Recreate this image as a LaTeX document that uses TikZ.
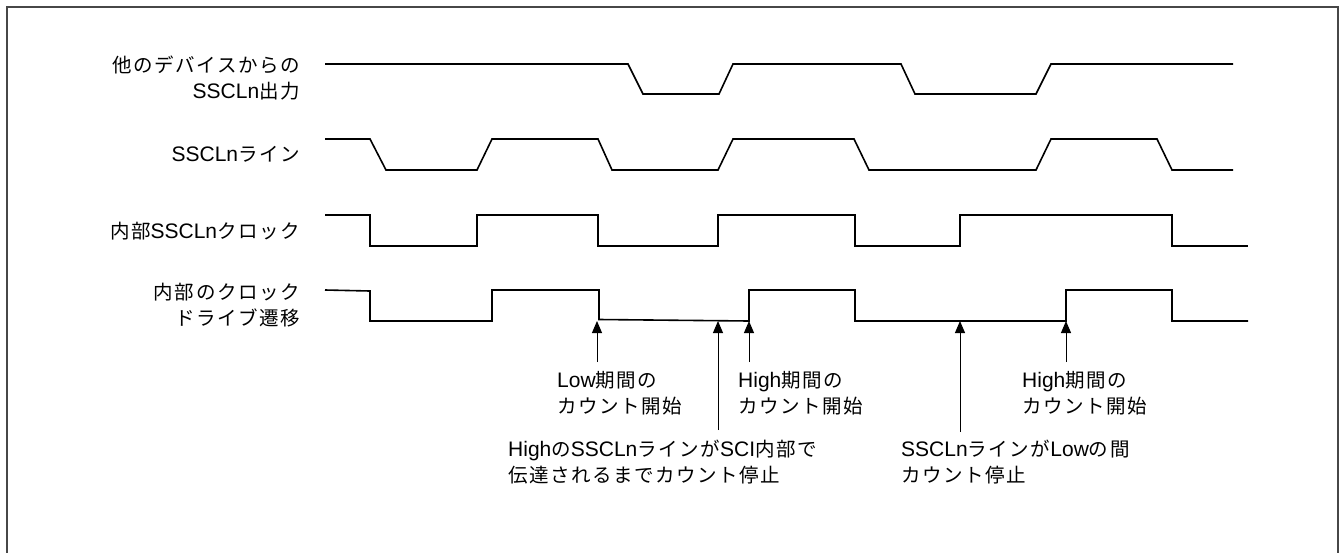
\documentclass[tikz,border=0pt]{standalone}
\usepackage{fontspec}
\setmainfont{Liberation Sans}
\newfontfamily\jpf[LetterSpace=8]{Noto Sans CJK JP}
\newcommand\J[1]{{\jpf\fontsize{19.5}{26}\selectfont #1}}
\usetikzlibrary{arrows.meta}
\begin{document}
\begin{tikzpicture}[x=1pt,y=-1pt,
  wave/.style={line width=1.6pt, line join=miter},
  ann/.style={line width=1pt, -{Triangle[length=12pt,width=10pt]}},
  lbl/.style={font=\fontsize{21}{26}\selectfont, inner sep=0pt}]
\useasboundingbox (0,0) rectangle (1341,552);
\draw[line width=2pt, draw=black!72] (6.5,556) -- (6.5,7) -- (1338,7) -- (1338,556);
% waveforms
\draw[wave] (325,64) -- (628,64) -- (643,94) -- (719,94) -- (733,64) -- (901,64) -- (915,94) -- (1036,94) -- (1051,64) -- (1233,64);
\draw[wave] (325,139) -- (370,139) -- (386,170) -- (477,170) -- (492,139) -- (598,139) -- (612,170) -- (718,170) -- (733,139) -- (854,139) -- (869,170) -- (1036,170) -- (1051,139) -- (1157,139) -- (1172,170) -- (1233,170);
\draw[wave] (325,215) -- (370,215) -- (370,246) -- (477,246) -- (477,215) -- (598,215) -- (598,246) -- (718,246) -- (718,215) -- (855,215) -- (855,246) -- (960,246) -- (960,215) -- (1172,215) -- (1172,246) -- (1248,246);
\draw[wave] (325,290) -- (370,291) -- (370,321) -- (492,321) -- (492,290) -- (599,290) -- (599,319.5) -- (749,321) -- (749,290) -- (855,290) -- (855,321) -- (1066,321) -- (1066,290) -- (1172,290) -- (1172,321) -- (1248,321);
% signal names
\node[lbl, anchor=east, align=right] (n1) at (300,78) {\J{他のデバイスからの}\\SSCLn\J{出力}};
\node[lbl, anchor=east] (n2) at (300,154) {SSCLn\J{ライン}};
\node[lbl, anchor=east] (n3) at (300,231) {\J{内部}SSCLn\J{クロック}};
\node[lbl, anchor=east, align=right] (n4) at (300,305) {\J{内部のクロック}\\\J{ドライブ遷移}};
% annotations
\node[lbl, anchor=west, align=left] (b1) at (557,393) {Low\J{期間の}\\\J{カウント開始}};
\node[lbl, anchor=west, align=left] (b2) at (738,393) {High\J{期間の}\\\J{カウント開始}};
\node[lbl, anchor=west, align=left] (b3) at (508,462) {High\J{の}SSCLn\J{ラインが}SCI\J{内部で}\\\J{伝達されるまでカウント停止}};
\node[lbl, anchor=west, align=left] (b4) at (901,462) {SSCLn\J{ラインが}Low\J{の間}\\\J{カウント停止}};
\node[lbl, anchor=west, align=left] (b5) at (1022,393) {High\J{期間の}\\\J{カウント開始}};
% arrow endpoints
\coordinate (s1) at (597,362); \coordinate (e1) at (597,321);
\coordinate (s2) at (718,430); \coordinate (e2) at (718,321);
\coordinate (s3) at (749,362); \coordinate (e3) at (749,321);
\coordinate (s4) at (960,432); \coordinate (e4) at (960,321);
\coordinate (s5) at (1066,362); \coordinate (e5) at (1066,321);
\draw[ann] (s1) -- (e1);
\draw[ann] (s2) -- (e2);
\draw[ann] (s3) -- (e3);
\draw[ann] (s4) -- (e4);
\draw[ann] (s5) -- (e5);
\end{tikzpicture}
\end{document}
